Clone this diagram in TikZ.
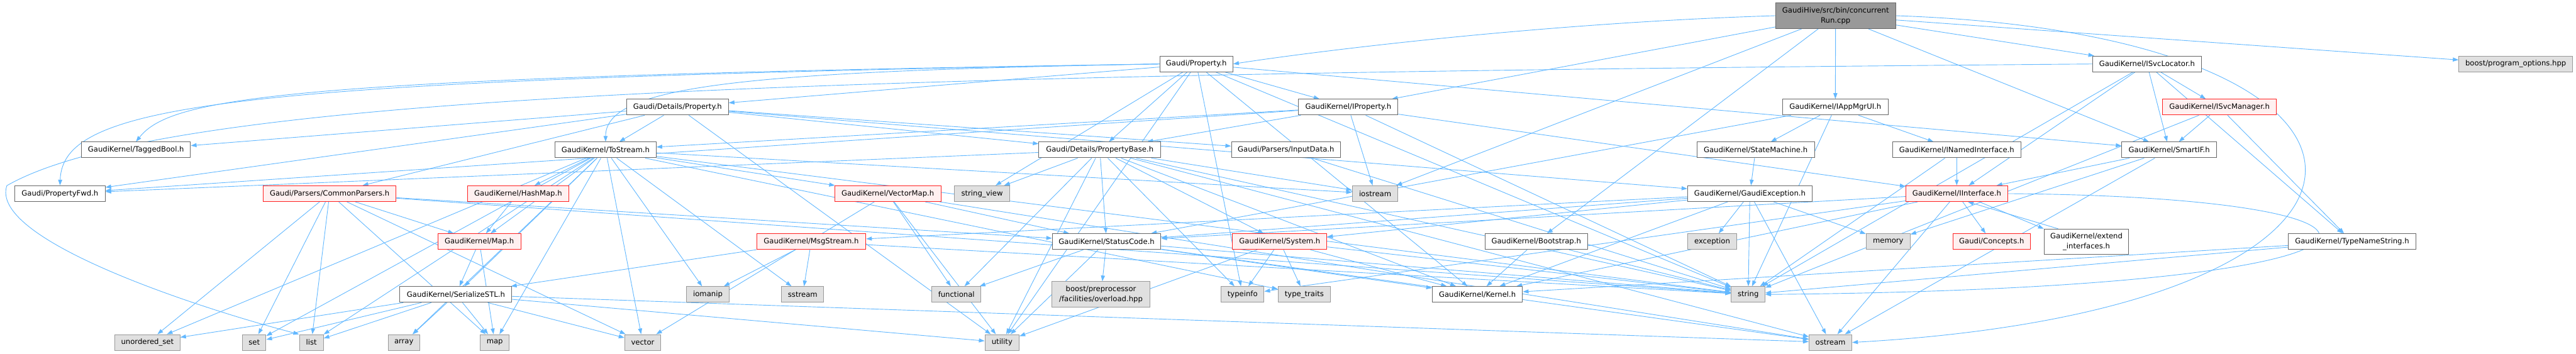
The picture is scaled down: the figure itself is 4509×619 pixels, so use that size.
\documentclass[tikz,border=0pt]{standalone}
\usepackage{fontspec}
\setmainfont{DejaVu Sans}
\usetikzlibrary{arrows.meta}
\definecolor{edgeblue}{HTML}{63B8FF}
\definecolor{nodegray}{HTML}{666666}
\definecolor{extfill}{HTML}{E0E0E0}
\definecolor{extdraw}{HTML}{999999}
\definecolor{hlfill}{HTML}{FFF0F0}
\definecolor{hldraw}{HTML}{FF2020}
\definecolor{rootfill}{HTML}{999999}
\newcommand{\nodefont}{\fontsize{12.8}{17.3}\selectfont}
\pgfdeclarelayer{background}
\pgfsetlayers{background,main}
\tikzset{
  nd/.style={draw=nodegray, fill=white, line width=1.1pt, minimum height=27.6pt, inner xsep=3pt, inner ysep=0pt, font=\nodefont, align=center},
  ext/.style={nd, fill=extfill, draw=extdraw},
  hl/.style={nd, fill=hlfill, draw=hldraw},
  rootnode/.style={nd, fill=rootfill, draw=nodegray},
  edge/.style={draw=edgeblue, line width=1pt, -{Triangle[length=10pt,width=7pt]}}
}
\begin{document}
\begin{tikzpicture}[x=1pt,y=-1pt]
\useasboundingbox (0,0) rectangle (4509,619);
% row 0
\node[rootnode, minimum width=210pt, minimum height=45pt] (root) at (3213,27.5) {GaudiHive/src/bin/concurrent\\Run.cpp};
% row 1
\node[nd, minimum width=128pt] (prop) at (2094,112) {Gaudi/Property.h};
\node[nd, minimum width=190pt] (svcloc) at (3758,112) {GaudiKernel/ISvcLocator.h};
\node[ext, minimum width=199pt] (progopt) at (4403.5,112) {boost/program\_options.hpp};
% row 2
\node[nd, minimum width=178pt] (detprop) at (1186,187.5) {Gaudi/Details/Property.h};
\node[nd, minimum width=174pt] (iprop) at (2360,187.5) {GaudiKernel/IProperty.h};
\node[nd, minimum width=185pt] (appmgr) at (3212.5,187.5) {GaudiKernel/IAppMgrUI.h};
\node[hl, minimum width=199pt] (svcmgr) at (3885,187.5) {GaudiKernel/ISvcManager.h};
% row 3
\node[nd, minimum width=191pt] (taggedbool) at (238,262.5) {GaudiKernel/TaggedBool.h};
\node[nd, minimum width=177pt] (tostream) at (1060,262.5) {GaudiKernel/ToStream.h};
\node[nd, minimum width=213pt] (propbase) at (1925,262.5) {Gaudi/Details/PropertyBase.h};
\node[nd, minimum width=191pt] (inputdata) at (2251,262.5) {Gaudi/Parsers/InputData.h};
\node[nd, minimum width=206pt] (statemachine) at (3073,262.5) {GaudiKernel/StateMachine.h};
\node[nd, minimum width=225pt] (inamed) at (3425,262.5) {GaudiKernel/INamedInterface.h};
\node[nd, minimum width=166pt] (smartif) at (3797,262.5) {GaudiKernel/SmartIF.h};
% row 4
\node[nd, minimum width=158pt] (propfwd) at (105,339) {Gaudi/PropertyFwd.h};
\node[hl, minimum width=233pt] (commonparsers) at (577,339) {Gaudi/Parsers/CommonParsers.h};
\node[hl, minimum width=177pt] (hashmap) at (907,339) {GaudiKernel/HashMap.h};
\node[hl, minimum width=186pt] (vectormap) at (1554,339) {GaudiKernel/VectorMap.h};
\node[ext, minimum width=96pt] (stringview) at (1719,339) {string\_view};
\node[ext, minimum width=80pt] (iostream) at (2407,339) {iostream};
\node[nd, minimum width=218pt] (gaudiexc) at (3063,339) {GaudiKernel/GaudiException.h};
\node[hl, minimum width=178pt] (iinterface) at (3425,339) {GaudiKernel/IInterface.h};
% row 5
\node[hl, minimum width=145pt] (maph) at (839,423) {GaudiKernel/Map.h};
\node[hl, minimum width=191pt] (msgstream) at (1420,423) {GaudiKernel/MsgStream.h};
\node[nd, minimum width=190pt] (statuscode) at (1937,423) {GaudiKernel/StatusCode.h};
\node[hl, minimum width=165pt] (system) at (2240,423) {GaudiKernel/System.h};
\node[nd, minimum width=179pt] (bootstrap) at (2689,423) {GaudiKernel/Bootstrap.h};
\node[ext, minimum width=85pt] (exception) at (2997,423) {exception};
\node[ext, minimum width=77pt] (memory) at (3305,423) {memory};
\node[hl, minimum width=135pt] (concepts) at (3486,423) {Gaudi/Concepts.h};
\node[nd, minimum width=148pt, minimum height=44pt] (extend) at (3652,423) {GaudiKernel/extend\\\_interfaces.h};
\node[nd, minimum width=223pt] (typenamestring) at (4117,423) {GaudiKernel/TypeNameString.h};
% row 6
\node[nd, minimum width=196pt] (serializestl) at (798,515.5) {GaudiKernel/SerializeSTL.h};
\node[ext, minimum width=75pt] (iomanip) at (1239,515.5) {iomanip};
\node[ext, minimum width=74pt] (sstream) at (1405,515.5) {sstream};
\node[ext, minimum width=86pt] (functional) at (1674,515.5) {functional};
\node[ext, minimum width=171pt, minimum height=45pt] (overload) at (1927,515.5) {boost/preprocessor\\/facilities/overload.hpp};
\node[ext, minimum width=75pt] (typeinfo) at (2175,515.5) {typeinfo};
\node[ext, minimum width=92pt] (typetraits) at (2283,515.5) {type\_traits};
\node[nd, minimum width=158pt] (kernel) at (2586,515.5) {GaudiKernel/Kernel.h};
\node[ext, minimum width=59pt] (string) at (3060,515.5) {string};
% row 7
\node[ext, minimum width=114pt] (unorderedset) at (258,599.5) {unordered\_set};
\node[ext, minimum width=41pt] (set) at (445,599.5) {set};
\node[ext, minimum width=42pt] (list) at (545,599.5) {list};
\node[ext, minimum width=55pt] (array) at (707,599.5) {array};
\node[ext, minimum width=50pt] (map) at (866,599.5) {map};
\node[ext, minimum width=63pt] (vector) at (1125,599.5) {vector};
\node[ext, minimum width=60pt] (utility) at (1754,599.5) {utility};
\node[ext, minimum width=75pt] (ostream) at (3204,599.5) {ostream};

\begin{pgfonlayer}{background}
\foreach \a/\b in {
 root/iprop, root/iostream, root/bootstrap, root/appmgr, root/svcloc, root/smartif, root/progopt,
 prop/detprop, prop/propbase, prop/iprop, prop/kernel, prop/smartif, prop/string, prop/stringview, prop/typeinfo, prop/utility,
 detprop/propfwd, detprop/taggedbool, detprop/commonparsers, detprop/tostream, detprop/propbase, detprop/inputdata, detprop/gaudiexc, detprop/utility,
 iprop/propfwd, iprop/tostream, iprop/propbase, iprop/iinterface, iprop/iostream, iprop/string,
 appmgr/statuscode, appmgr/statemachine, appmgr/inamed, appmgr/string,
 svcloc/iinterface, svcloc/svcmgr, svcloc/smartif, svcloc/typenamestring, svcloc/string,
 svcmgr/smartif, svcmgr/typenamestring, svcmgr/string,
 tostream/unorderedset, tostream/set, tostream/list, tostream/array, tostream/hashmap, tostream/maph, tostream/map, tostream/vector, tostream/iomanip, tostream/sstream, tostream/serializestl, tostream/vectormap, tostream/iostream, tostream/string, tostream/typetraits,
 propbase/propfwd, propbase/stringview, propbase/functional, propbase/utility, propbase/statuscode, propbase/typeinfo, propbase/system, propbase/kernel, propbase/string, propbase/iostream, propbase/ostream,
 inputdata/string, statemachine/gaudiexc, inamed/iinterface, inamed/string,
 smartif/iinterface, smartif/memory, smartif/ostream,
 commonparsers/unorderedset, commonparsers/set, commonparsers/list, commonparsers/map, commonparsers/maph, commonparsers/vector, commonparsers/string, commonparsers/statuscode,
 hashmap/maph,
 vectormap/functional, vectormap/utility, vectormap/statuscode, vectormap/vector, vectormap/ostream,
 gaudiexc/exception, gaudiexc/string, gaudiexc/memory, gaudiexc/ostream, gaudiexc/statuscode, gaudiexc/kernel, gaudiexc/system, gaudiexc/msgstream,
 iinterface/concepts, iinterface/statuscode, iinterface/kernel, iinterface/typeinfo, iinterface/ostream,
 maph/serializestl, maph/map,
 msgstream/serializestl, msgstream/iomanip, msgstream/sstream, msgstream/string,
 statuscode/functional, statuscode/overload, statuscode/utility, statuscode/ostream, statuscode/kernel, statuscode/string,
 system/typeinfo, system/typetraits, system/utility, system/kernel, system/string,
 bootstrap/kernel, bootstrap/string,
 typenamestring/string, typenamestring/kernel,
 serializestl/unorderedset, serializestl/set, serializestl/list, serializestl/array, serializestl/map, serializestl/vector, serializestl/ostream, serializestl/utility}
 \draw[edge] (\a) -- (\b);

% special routes
\draw[edge] (root.west) .. controls (2700,40) and (2300,90) .. (prop.east);
\draw[edge] (prop.west) .. controls (1300,125) and (1060,150) .. (tostream.north);
\draw[edge] (prop.west) .. controls (500,135) and (300,170) .. (taggedbool.north);
\draw[edge] (prop.west) .. controls (400,140) and (110,180) .. (propfwd.north);
\draw[edge] ([xshift=-50pt]iinterface.south east) -- (extend.north west);
\draw[edge] ([xshift=25pt]extend.north west) -- ([xshift=-70pt]iinterface.south east);
\draw[edge] (root.east) .. controls (4280,60) and (4290,540) .. (ostream.east);
\draw[edge] (iinterface.east) .. controls (4300,345) and (4300,505) .. (string.east);
\draw[edge] (svcloc.west) .. controls (1500,130) and (300,160) .. (12,325) .. controls (-20,420) and (350,540) .. (list.north west);
\end{pgfonlayer}
\end{tikzpicture}
\end{document}
